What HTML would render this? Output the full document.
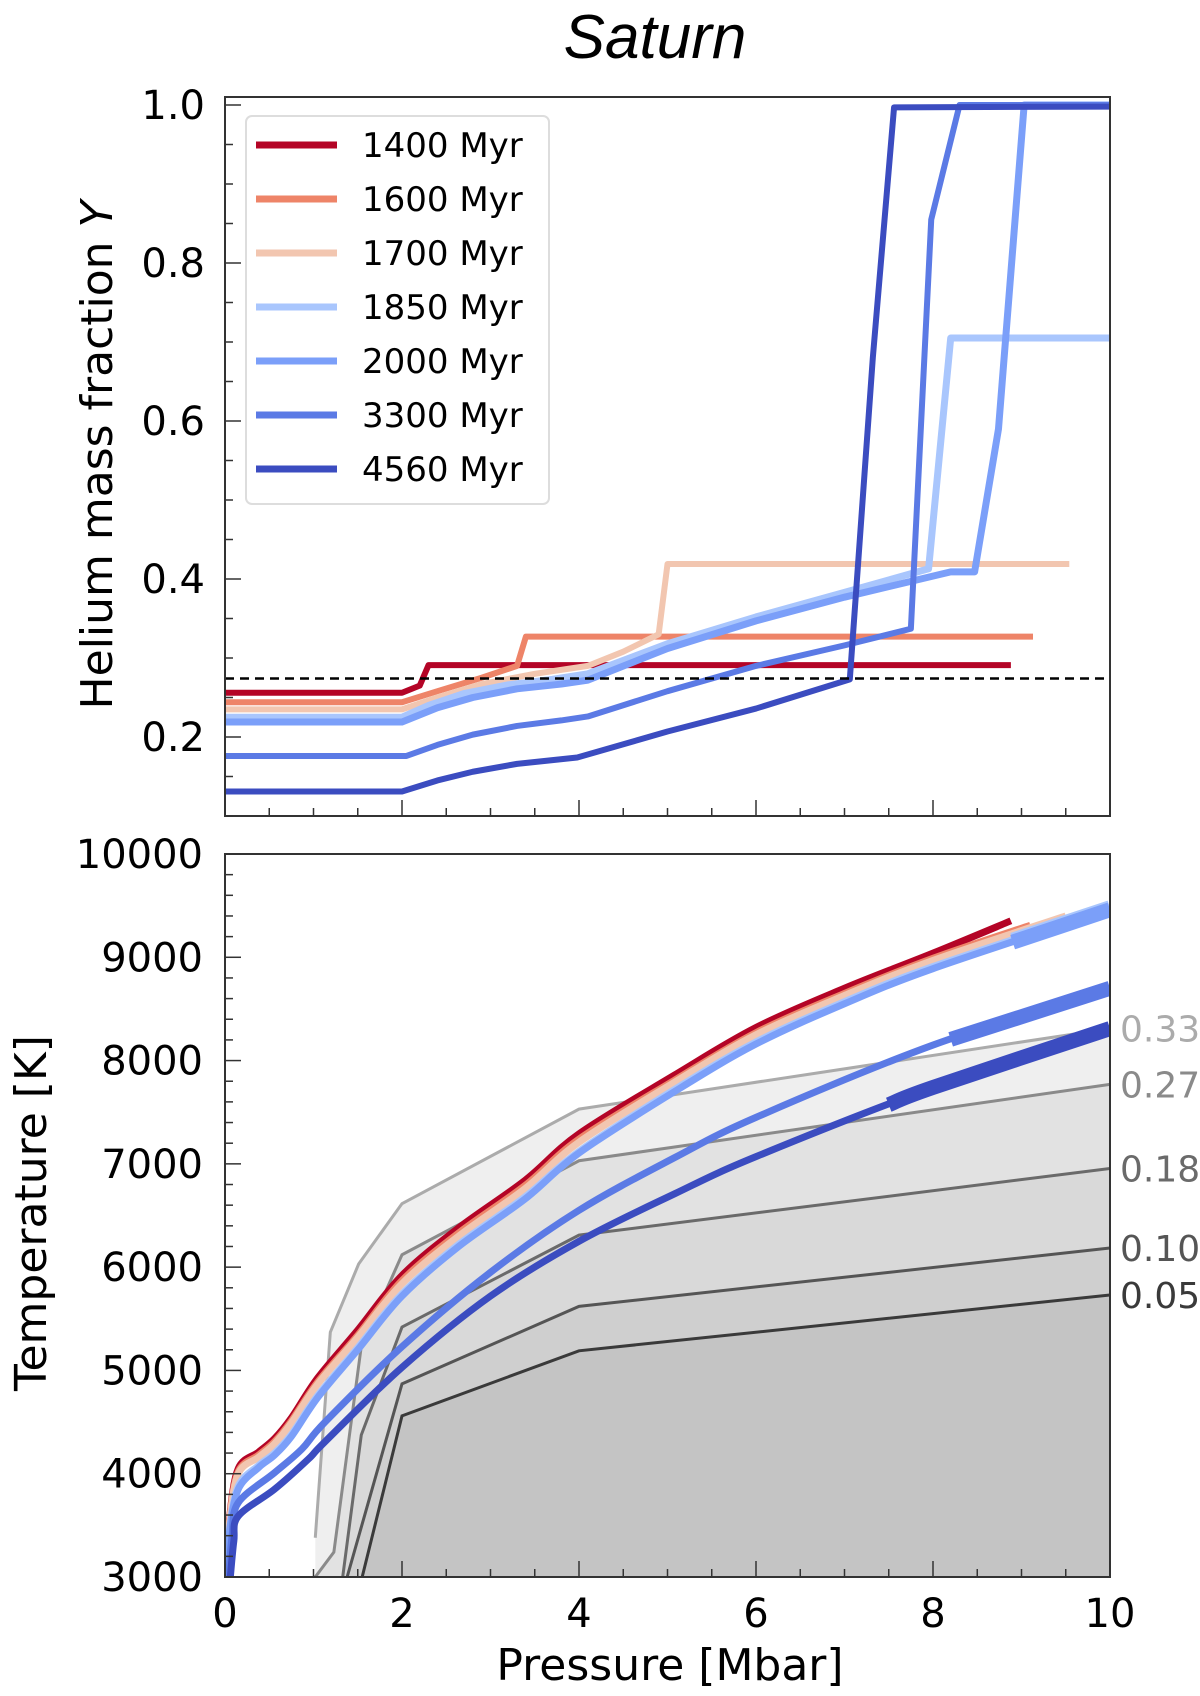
<!DOCTYPE html>
<html><head><meta charset="utf-8"><style>
html,body{margin:0;padding:0;background:#fff;}
svg{display:block;font-family:"DejaVu Sans","Liberation Sans",sans-serif;}
</style></head><body>
<svg id="chart" width="1200" height="1696" viewBox="0 0 1200 1696" xmlns="http://www.w3.org/2000/svg">
<text x="655" y="58" font-size="62" font-style="italic" text-anchor="middle" font-family="Liberation Sans, sans-serif">Saturn</text>
<g id="topPanel"></g>
<g id="botPanel"></g>
</svg>
<script>
const ages = ['1400 Myr','1600 Myr','1700 Myr','1850 Myr','2000 Myr','3300 Myr','4560 Myr'];
const colors = ['#b40426','#ee8468','#f2c6b0','#a9c6fd','#7b9ff9','#5b7ae5','#3b4cc0'];
// Helium Y profiles: [pressure Mbar, Y]
const yP1400 = [[0,0.256],[2.0,0.256],[2.2,0.265],[2.3,0.291],[8.88,0.291]];
const yP1600 = [[0,0.244],[2.0,0.244],[2.4,0.258],[2.9,0.275],[3.3,0.290],[3.4,0.327],[9.13,0.327]];
const yP1700 = [[0,0.235],[2.0,0.235],[2.4,0.250],[2.9,0.267],[3.5,0.280],[4.1,0.290],[4.5,0.308],[4.9,0.330],[5.0,0.419],[9.54,0.419]];
const yP1850 = [[0,0.225],[2.0,0.225],[2.3,0.240],[2.7,0.255],[3.2,0.266],[3.7,0.273],[4.1,0.280],[5,0.318],[6,0.352],[7,0.383],[7.95,0.413],[8.2,0.705],[10,0.705]];
const yP2000 = [[0,0.219],[2.0,0.219],[2.4,0.237],[2.8,0.250],[3.3,0.261],[3.8,0.267],[4.1,0.272],[5,0.312],[6,0.347],[7,0.377],[8.2,0.409],[8.47,0.409],[8.74,0.59],[9.03,1.0],[10,1.0]];
const yP3300 = [[0,0.176],[2.05,0.176],[2.4,0.190],[2.8,0.203],[3.3,0.214],[3.8,0.221],[4.1,0.226],[5,0.258],[6,0.290],[7,0.316],[7.75,0.337],[7.98,0.855],[8.3,1.0],[10,1.0]];
const yP4560 = [[0,0.131],[2.0,0.131],[2.4,0.145],[2.8,0.156],[3.3,0.166],[3.98,0.174],[5,0.207],[6,0.236],[7.06,0.273],[7.32,0.68],[7.56,0.997],[10,0.998]];
const heliumSeries = [yP1400,yP1600,yP1700,yP1850,yP2000,yP3300,yP4560];
const yProto = 0.274;
const topYTicks = [0.2,0.4,0.6,0.8,1.0];
const xTicks = [0,2,4,6,8,10];
// Temperature profiles: [pressure Mbar, T K]
const tP1400 = [[0.02,3000],[0.05,3550],[0.15,4050],[0.38,4210],[0.56,4340],[0.75,4540],[1.05,4930],[1.5,5390],[2,5920],[2.64,6380],[3.39,6840],[4,7290],[5.08,7860],[6,8320],[7,8700],[8,9040],[8.88,9353]];
const tP1600 = [[0.02,3000],[0.05,3530],[0.15,4020],[0.38,4180],[0.56,4310],[0.75,4510],[1.05,4890],[1.5,5340],[2,5870],[2.64,6330],[3.39,6790],[4,7240],[5.08,7810],[6,8270],[7,8650],[8,8990],[9.1,9310]];
const tP1700 = [[0.02,3000],[0.05,3510],[0.15,4000],[0.38,4160],[0.56,4290],[0.75,4490],[1.05,4870],[1.5,5320],[2,5840],[2.64,6300],[3.39,6760],[4,7210],[5.08,7790],[6,8250],[7,8630],[8,8970],[9.5,9400]];
const tP1850 = [[0.02,3000],[0.05,3450],[0.15,3880],[0.38,4080],[0.56,4200],[0.75,4380],[1.05,4760],[1.5,5220],[2,5740],[2.64,6220],[3.39,6680],[4,7120],[5.08,7720],[6,8180],[7,8570],[8,8910],[10,9480]];
const tP2000 = [[0.02,3000],[0.05,3430],[0.15,3850],[0.38,4060],[0.56,4180],[0.75,4360],[1.05,4740],[1.5,5200],[2,5720],[2.64,6200],[3.39,6660],[4,7105],[5.08,7700],[6,8160],[7,8550],[8,8890],[10,9460]];
const tP3300 = [[0.04,3000],[0.08,3400],[0.15,3720],[0.56,4010],[0.87,4240],[1.13,4500],[2,5230],[3,5950],[4,6550],[5.08,7060],[6,7450],[8,8150],[10,8700]];
const tP4560 = [[0.06,3000],[0.1,3350],[0.15,3590],[0.56,3850],[0.94,4140],[1.13,4310],[2,5030],[3,5720],[4,6250],[5.08,6710],[6,7070],[8,7740],[10,8310]];
const tempSeries = [tP1400,tP1600,tP1700,tP1850,tP2000,tP3300,tP4560];
const thickFrom = [null,null,null,8.9,8.9,8.2,7.5];
const botYTicks = [3000,4000,5000,6000,7000,8000,9000,10000];
// Y-contour boundaries
const contourLabels = ['0.33','0.27','0.18','0.10','0.05'];
const c033 = [[1.02,3380],[1.19,5370],[1.51,6030],[2,6615],[4,7530],[10,8310]];
const c027 = [[1.02,3000],[1.23,3240],[1.54,5235],[2,6120],[4,7030],[10,7770]];
const c018 = [[1.33,3000],[1.54,4375],[2,5420],[4,6310],[10,6955]];
const c010 = [[1.38,3000],[2,4870],[4,5620],[10,6185]];
const c005 = [[1.55,3000],[2,4560],[4,5190],[10,5730]];
const contours = [c033,c027,c018,c010,c005];

const NS='http://www.w3.org/2000/svg';
const L=225,R=1110;
const x=p=>L+(R-L)*p/10;
const yTop=v=>105+(1.0-v)*790;
const TT=97,TB=816;
const yBot=t=>1577-(t-3000)*(1577-854)/7000;
const BT=854,BB=1577;
function mk(parent,tag,attrs){const e=document.createElementNS(NS,tag);for(const k in attrs)e.setAttribute(k,attrs[k]);parent.appendChild(e);return e;}
function smooth(pts){
  let d='M'+pts[0][0]+','+pts[0][1];
  for(let i=0;i<pts.length-1;i++){const p0=pts[Math.max(0,i-1)],p1=pts[i],p2=pts[i+1],p3=pts[Math.min(pts.length-1,i+2)];
    const c1=[p1[0]+(p2[0]-p0[0])/6,p1[1]+(p2[1]-p0[1])/6],c2=[p2[0]-(p3[0]-p1[0])/6,p2[1]-(p3[1]-p1[1])/6];
    d+=' C'+c1+' '+c2+' '+p2;}
  return d;}
function poly(pts){return 'M'+pts.map(p=>p[0]+','+p[1]).join(' L');}
const topG=document.getElementById('topPanel'),botG=document.getElementById('botPanel');
const ff='DejaVu Sans, Liberation Sans, sans-serif';

// ---------- Top panel ----------
mk(topG,'defs',{}).innerHTML='<clipPath id="ct"><rect x="225" y="97" width="885" height="719"/></clipPath><clipPath id="cb"><rect x="225" y="854" width="885" height="723"/></clipPath>';
heliumSeries.forEach((s,i)=>{
  const pts=s.map(p=>[x(p[0]),yTop(p[1])]);
  const e=mk(topG,'path',{d:poly(pts),fill:'none',stroke:colors[i],'stroke-width':(i===3||i===4)?7:6,'stroke-linejoin':'round','clip-path':'url(#ct)'});
  
  
});
const dl=mk(topG,'line',{x1:L,x2:R,y1:yTop(yProto),y2:yTop(yProto),stroke:'#000','stroke-width':2.5,'stroke-dasharray':'9,6'});


mk(topG,'rect',{x:L,y:TT,width:R-L,height:TB-TT,fill:'none',stroke:'#333','stroke-width':2});
for(let v=0.1;v<=1.0001;v+=0.05){const major=Math.abs(v*5-Math.round(v*5))<1e-6;const yy=yTop(v);if(yy<TT-1)continue;mk(topG,'line',{x1:L,x2:L+(major?16:8),y1:yy,y2:yy,stroke:'#333','stroke-width':1.5});}
for(let p=0;p<=10.001;p+=0.5){const major=Math.abs(p/2-Math.round(p/2))<1e-6;mk(topG,'line',{x1:x(p),x2:x(p),y1:TB,y2:TB-(major?16:8),stroke:'#333','stroke-width':1.5});}
topYTicks.forEach(v=>{const t=mk(topG,'text',{x:205,y:yTop(v)+14,'font-size':40,'text-anchor':'end','font-family':ff});t.textContent=v.toFixed(1);
  
  });
const yl=mk(topG,'text',{x:0,y:0,'font-size':44,'text-anchor':'middle','font-family':ff,transform:'translate(112,455) rotate(-90)'});
yl.innerHTML='Helium mass fraction <tspan font-style="italic">Y</tspan>';


const lg=mk(topG,'g',{});


mk(lg,'rect',{x:246,y:116,width:303,height:388,rx:6,fill:'#fff',stroke:'#ddd','stroke-width':2});
ages.forEach((a,i)=>{const yy=145+i*54;
  const g=mk(lg,'g',{});
  
  
  mk(g,'line',{x1:256,x2:337,y1:yy,y2:yy,stroke:colors[i],'stroke-width':7});
  const t=mk(g,'text',{x:362,y:yy+12,'font-size':34,'font-family':ff});t.textContent=a;});

// ---------- Bottom panel ----------
const fills=['#efefef','#e2e2e2','#d9d9d9','#cfcfcf','#c4c4c4'];
const strokes=['#ababab','#8a8a8a','#6a6a6a','#555','#3a3a3a'];
contours.forEach((c,i)=>{
  const pts=c.map(p=>[x(p[0]),yBot(p[1])]);
  const area=mk(botG,'path',{d:poly(pts)+' L'+x(10)+','+BB+' L'+pts[0][0]+','+BB+' Z',fill:fills[i],'clip-path':'url(#cb)'});
  
  
});
contours.forEach((c,i)=>{
  const pts=c.map(p=>[x(p[0]),yBot(p[1])]);
  const ln=mk(botG,'path',{d:poly(pts),fill:'none',stroke:strokes[i],'stroke-width':3,'clip-path':'url(#cb)'});
  
  
  const last=c[c.length-1];
  const t=mk(botG,'text',{x:1120,y:yBot(last[1])+13,'font-size':36,fill:strokes[i],'font-family':ff});t.textContent=contourLabels[i];
  
  
});
tempSeries.forEach((s,i)=>{
  const pts=s.map(p=>[x(p[0]),yBot(p[1])]);
  const e=mk(botG,'path',{d:smooth(pts),fill:'none',stroke:colors[i],'stroke-width':7,'clip-path':'url(#cb)'});
  
  
  if(thickFrom[i]!==null){
    const sub=s.filter(p=>p[0]>=thickFrom[i]);
    const k=s.findIndex(p=>p[0]>=thickFrom[i]);
    const a=s[k-1],b=s[k];const f=(thickFrom[i]-a[0])/(b[0]-a[0]);
    const st=[thickFrom[i],a[1]+f*(b[1]-a[1])];
    const tp=[st].concat(sub).map(p=>[x(p[0]),yBot(p[1])]);
    const th=mk(botG,'path',{d:smooth(tp),fill:'none',stroke:colors[i],'stroke-width':15,'clip-path':'url(#cb)'});
    
    
  }
});
mk(botG,'rect',{x:L,y:BT,width:R-L,height:BB-BT,fill:'none',stroke:'#333','stroke-width':2});
for(let t=3000;t<=10000;t+=200){const major=t%1000===0;mk(botG,'line',{x1:L,x2:L+(major?16:8),y1:yBot(t),y2:yBot(t),stroke:'#333','stroke-width':1.5});}
for(let p=0;p<=10.001;p+=0.5){const major=Math.abs(p/2-Math.round(p/2))<1e-6;mk(botG,'line',{x1:x(p),x2:x(p),y1:BB,y2:BB-(major?16:8),stroke:'#333','stroke-width':1.5});}
botYTicks.forEach(v=>{const t=mk(botG,'text',{x:203,y:yBot(v)+14,'font-size':40,'text-anchor':'end','font-family':ff});t.textContent=v;
  
  });
xTicks.forEach(v=>{const t=mk(botG,'text',{x:x(v),y:1627,'font-size':40,'text-anchor':'middle','font-family':ff});t.textContent=v;
  
  });
const tl=mk(botG,'text',{x:0,y:0,'font-size':44,'text-anchor':'middle','font-family':ff,transform:'translate(46,1213) rotate(-90)'});
tl.textContent='Temperature [K]';


const xl=mk(botG,'text',{x:670,y:1680,'font-size':44,'text-anchor':'middle','font-family':ff});
xl.textContent='Pressure [Mbar]';


</script>
</body></html>
